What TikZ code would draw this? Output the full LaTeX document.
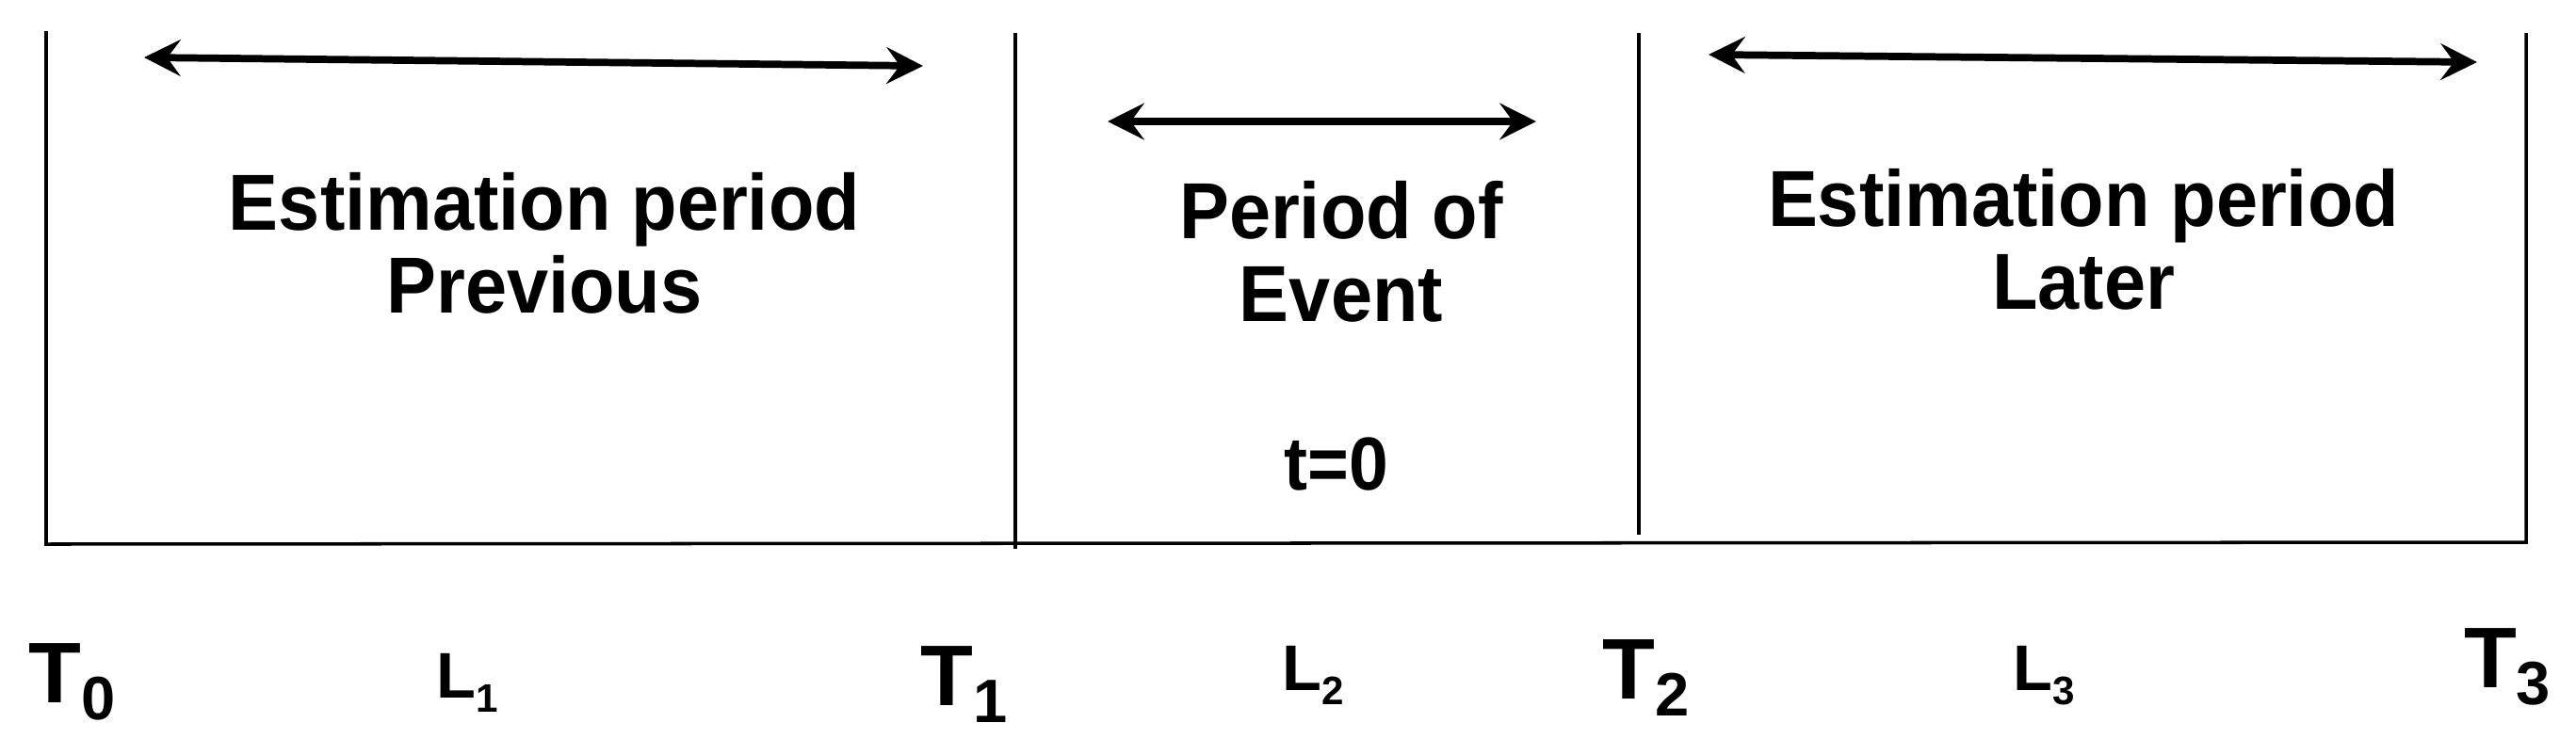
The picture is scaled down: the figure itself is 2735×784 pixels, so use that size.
\documentclass[tikz,border=0pt]{standalone}
\usepackage{fontspec}
\setmainfont{Liberation Sans}
\newfontfamily\condfont{Liberation Sans}[FakeStretch=0.94]
\usetikzlibrary{arrows.meta}
\newcommand{\mysub}[3]{\raisebox{-#2}{\fontsize{#1}{#1}\selectfont #3}}
\tikzset{
  frame/.style={line width=1pt, black},
  span/.style={line width=2.2pt, black, {Stealth[length=11pt,width=11pt,inset=4pt]}-{Stealth[length=11pt,width=11pt,inset=4pt]}},
  maintext/.style={inner sep=0pt, align=center, font=\condfont\bfseries\fontsize{24}{25}\selectfont},
  tlabel/.style={inner sep=0pt, anchor=base, font=\bfseries\fontsize{26}{26}\selectfont},
  llabel/.style={inner sep=0pt, anchor=base, font=\bfseries\fontsize{19.5}{19.5}\selectfont}
}
\begin{document}
\begin{tikzpicture}[x=0.01cm, y=-0.01cm]
\useasboundingbox (0,0) rectangle (2735,784);
% frame coordinates
\coordinate (a0) at (49,33);
\coordinate (b0) at (49,578);
\coordinate (a1) at (1078,35);
\coordinate (b1) at (1078,583);
\coordinate (a2) at (1740,35);
\coordinate (b2) at (1740,568);
\coordinate (a3) at (2682,35);
\coordinate (b3) at (2682,576);
\draw[frame] (a0) -- (b0) -- (b3) -- (a3);
\draw[frame] (a1) -- (b1);
\draw[frame] (a2) -- (b2);
% span arrows
\coordinate (p1l) at (153,61);
\coordinate (p1r) at (980,70);
\coordinate (p2l) at (1176,129);
\coordinate (p2r) at (1631,129);
\coordinate (p3l) at (1814,58);
\coordinate (p3r) at (2630,66);
\draw[span] (p1l) -- (p1r);
\draw[span] (p2l) -- (p2r);
\draw[span] (p3l) -- (p3r);
% texts
\node[maintext] (est1) at (578,258) {Estimation period\\Previous};
\node[maintext] (evt) at (1424,267) {Period of\\Event};
\node[maintext] (est2) at (2212,254) {Estimation period\\Later};
\node[inner sep=0pt, anchor=base, font=\condfont\bfseries\fontsize{22.7}{22.7}\selectfont] (t0) at (1419,520) {t=0};
% time labels
\node[tlabel] (T0) at (77,746) {T\mysub{18.5pt}{0.2em}{0}};
\node[tlabel] (T1) at (1024,749) {T\mysub{18.5pt}{0.2em}{1}};
\node[tlabel] (T2) at (1748,742) {T\mysub{18.5pt}{0.2em}{2}};
\node[tlabel] (T3) at (2662,730) {T\mysub{18.5pt}{0.2em}{3}};
\node[llabel] (L1) at (496,741) {L\mysub{12pt}{0.23em}{1}};
\node[llabel] (L2) at (1394,733) {L\mysub{12pt}{0.23em}{2}};
\node[llabel] (L3) at (2170,733) {L\mysub{12pt}{0.23em}{3}};
\end{tikzpicture}
\end{document}
